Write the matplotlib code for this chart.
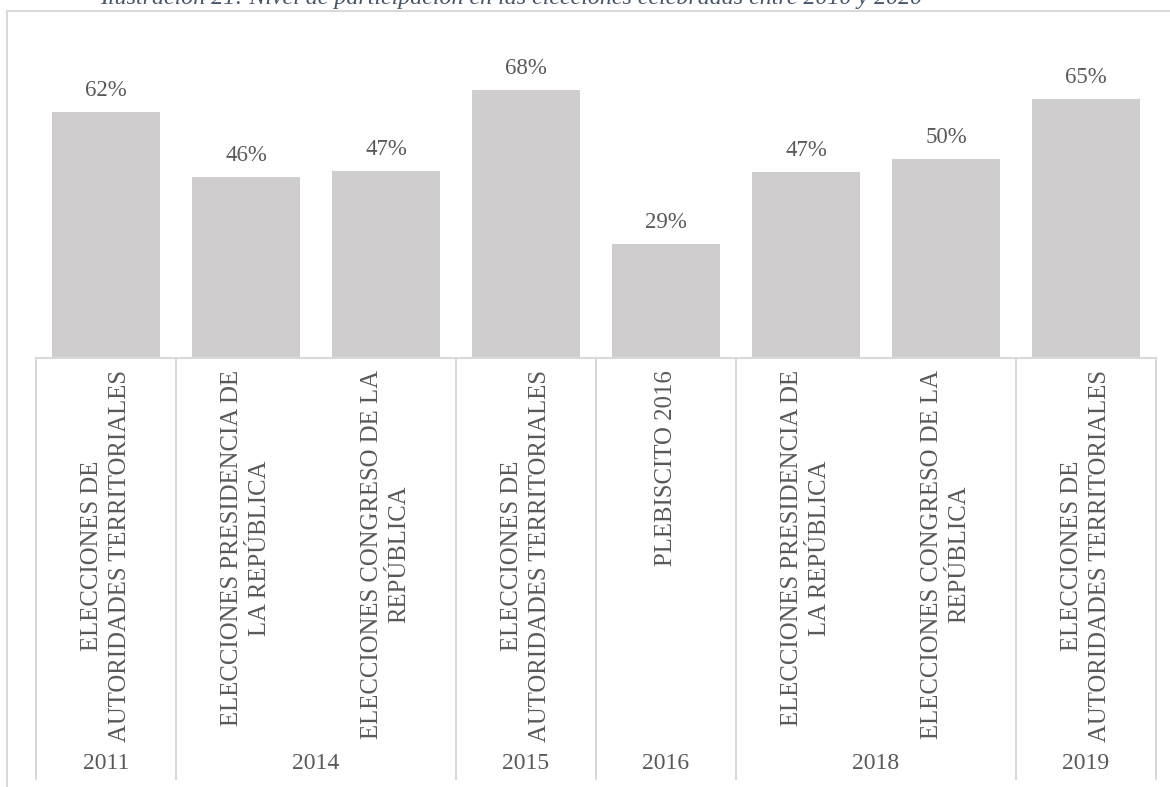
import matplotlib
matplotlib.use("Agg")
import matplotlib.pyplot as plt
from matplotlib.patches import Rectangle

# data
categories = [
    "ELECCIONES DE\nAUTORIDADES TERRITORIALES",
    "ELECCIONES PRESIDENCIA DE\nLA REPÚBLICA",
    "ELECCIONES CONGRESO DE LA\nREPÚBLICA",
    "ELECCIONES DE\nAUTORIDADES TERRITORIALES",
    "PLEBISCITO 2016",
    "ELECCIONES PRESIDENCIA DE\nLA REPÚBLICA",
    "ELECCIONES CONGRESO DE LA\nREPÚBLICA",
    "ELECCIONES DE\nAUTORIDADES TERRITORIALES",
]
participation = [62.1, 45.6, 47.2, 67.7, 28.8, 47.0, 50.3, 65.4]
years = ["2011", "2014", "2015", "2016", "2018", "2019"]
year_groups = [1, 2, 1, 1, 2, 1]  # how many categories fall under each year

title = "Ilustración 21: Nivel de participación en las elecciones celebradas entre 2010 y 2020"

plt.rcParams['font.family'] = ['Liberation Serif', 'DejaVu Serif']
text_col = '#595959'
line_col = '#d9d9d9'

W, H = 1170, 787
fig = plt.figure(figsize=(W / 100, H / 100), dpi=100)

# outer chart frame
fig.patches.append(Rectangle((7 / W, -0.05), 1.1, (H - 10.5) / H + 0.05,
                             transform=fig.transFigure, fill=False,
                             edgecolor=line_col, linewidth=1.5))
# the caption sits mostly above the picture, as in the source image
fig.text(100 / W, (H - 4) / H, title, ha='left', va='baseline',
         fontstyle='italic', fontsize=17.3, color='#44546a')

ax_bottom = H - 358
ax_top = H - (358 - 80 * 3.96)
ax = fig.add_axes([36 / W, ax_bottom / H, (1156 - 36) / W, (ax_top - ax_bottom) / H])
ax_h = ax_top - ax_bottom

x = list(range(len(participation)))
ax.bar(x, participation, width=108 / 140, color='#cfcdce')
ax.set_xlim(-0.5, len(x) - 0.5)
ax.set_ylim(0, 80)
ax.axis('off')

for xi, v in zip(x, participation):
    ax.annotate(f"{round(v)}%", (xi, v), xytext=(0, 8), textcoords='offset points',
                ha='center', va='bottom', fontsize=16.5, color=text_col)

trans = ax.get_xaxis_transform()
for xi, lab in zip(x, categories):
    ax.text(xi, -12 / ax_h, lab, rotation=90, ha='center', va='top',
            multialignment='center', fontsize=17.8, color=text_col,
            transform=trans, linespacing=1.3)

# axis line and year separators
ax.plot([-0.5, len(x) - 0.5], [0, 0], color=line_col, lw=1.5, clip_on=False,
        transform=trans)
bottom_y = -(779 - 358) / ax_h
start = -0.5
ax.plot([start, start], [0, bottom_y], color=line_col, lw=1.5, clip_on=False, transform=trans)
for yr, n in zip(years, year_groups):
    end = start + n
    ax.plot([end, end], [0, bottom_y], color=line_col, lw=1.5, clip_on=False, transform=trans)
    ax.text((start + end) / 2, -(764 - 358) / ax_h, yr, ha='center', va='center',
            fontsize=17, color=text_col, transform=trans)
    start = end

fig.savefig("out.png", dpi=100)
